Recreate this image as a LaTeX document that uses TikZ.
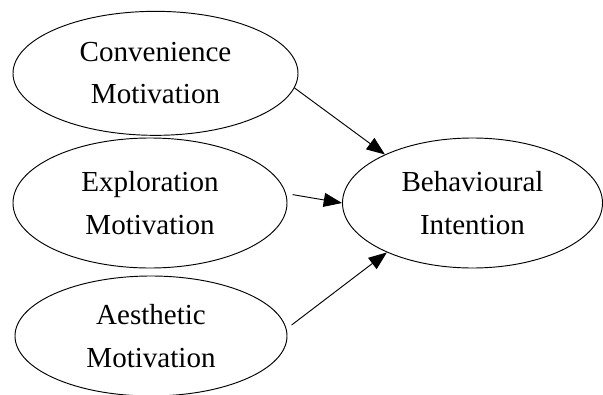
\documentclass[tikz,border=0pt]{standalone}
\usepackage{fontspec}
\setmainfont{Liberation Serif}
\usepackage{tikz}
\usetikzlibrary{arrows.meta,shapes.geometric}
\tikzset{
	construct/.style={ellipse, draw, line width=0.8pt, inner sep=0pt, align=center,
		font=\fontsize{24.8}{36}\selectfont},
	effect/.style={line width=0.8pt, -{Triangle[length=0.55cm, width=0.42cm]}}
}

\begin{document}
\begin{tikzpicture}
			%%%%% START %%%%%
			
			\useasboundingbox (0, 0) rectangle (18.09, 11.82);
			
			\node[construct, minimum width=8.55cm, minimum height=3.72cm] (conv) at (4.665, 9.62) {Convenience\\Motivation};
			\node[construct, minimum width=8.22cm, minimum height=3.9cm] (expl) at (4.5, 5.73) {Exploration\\Motivation};
			\node[construct, minimum width=8.16cm, minimum height=3.6cm] (aest) at (4.53, 1.74) {Aesthetic\\Motivation};
			
			\node[construct, minimum width=7.8cm, minimum height=3.9cm] (beh) at (14.175, 5.73) {Behavioural\\Intention};
			
			\draw[effect] (conv.-6.6) -- (beh.151.6);
			\draw[effect, shorten <=0.2cm] (expl.4) -- (beh.west);
			\draw[effect, shorten <=0.19cm] (aest.3.4) -- (beh.210.4);
			
			%%%%% END %%%%%
\end{tikzpicture}
\end{document}
